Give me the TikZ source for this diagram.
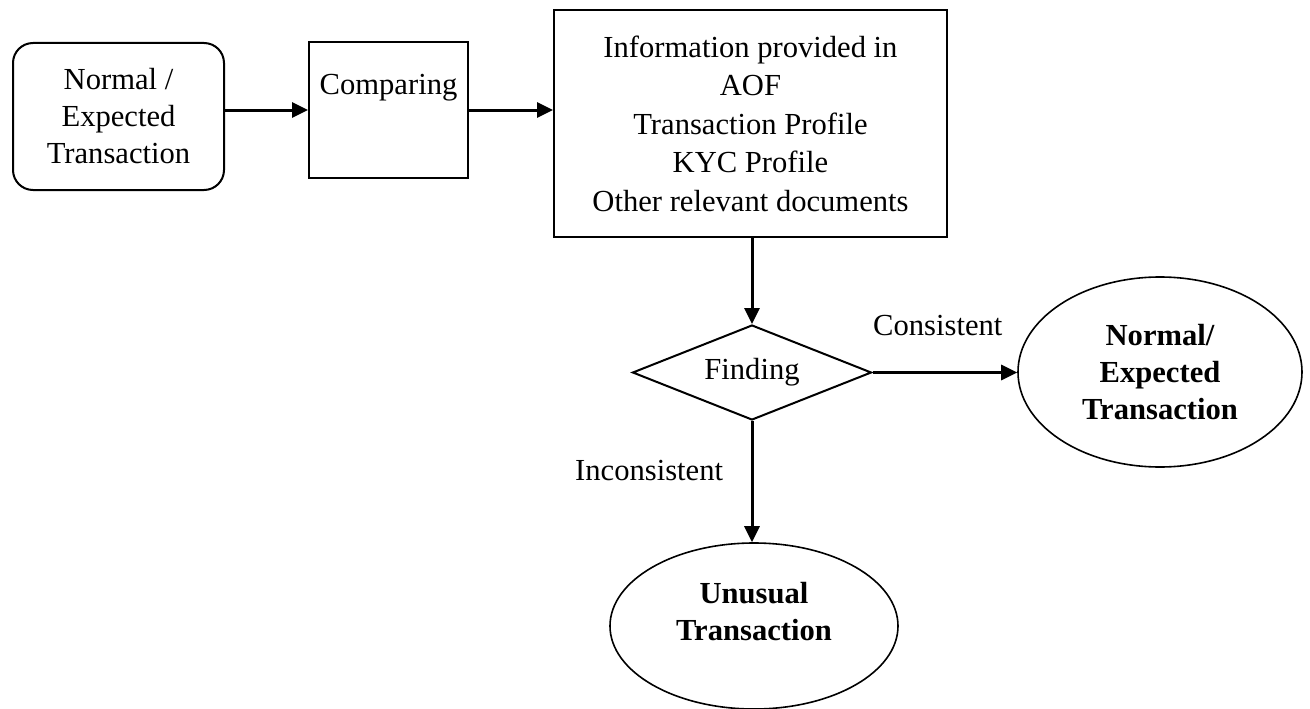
\documentclass[tikz,border=0pt]{standalone}
\usepackage{fontspec}
\setmainfont{Liberation Serif}
\usetikzlibrary{shapes.geometric,arrows.meta}
\begin{document}
\begin{tikzpicture}[x=1pt,y=-1pt,
  every node/.style={font=\fontsize{30.6}{37}\selectfont, align=center, inner sep=0pt},
  boxshape/.style={draw, line width=2pt, rectangle},
  roundbox/.style={draw, line width=2pt, rectangle, rounded corners=20pt},
  ellshape/.style={draw, line width=1.6pt, ellipse},
  decision/.style={draw, line width=2pt, diamond, shape aspect=2.5},
  flow/.style={line width=3pt, -{Triangle[length=16pt,width=15pt]}},
  boldtext/.style={font=\fontsize{30.6}{37}\selectfont\bfseries},
]
\useasboundingbox (0,0) rectangle (1310,709);
\fill[white] (0,0) rectangle (1310,709);

% nodes
\node[roundbox, minimum width=211pt, minimum height=147pt] (start) at (118.5,116.5)
  {Normal /\\Expected\\Transaction};
\node[boxshape, minimum width=159pt, minimum height=136pt] (cmp) at (388.5,110) {};
\node[anchor=base] (cmptext) at (388.5,95) {Comparing};
\node[boxshape, minimum width=393pt, minimum height=227pt,
      font=\fontsize{30.6}{38.5}\selectfont] (info) at (750.5,123.5)
  {Information provided in\\AOF\\Transaction Profile\\KYC Profile\\Other relevant documents};
\node[decision, minimum width=239pt, minimum height=95pt] (dec) at (752,372.5) {Finding};
\node[ellshape, boldtext, minimum width=284pt, minimum height=190pt] (normal) at (1160,372)
  {Normal/\\Expected\\Transaction};
\node[ellshape, minimum width=288pt, minimum height=166pt] (unusual) at (754,626) {};
\node[boldtext] (unusualtext) at (754,612) {Unusual\\Transaction};

% labels
\node[anchor=base west] (conslbl) at (873,335) {Consistent};
\node[anchor=base west] (inconslbl) at (575,480) {Inconsistent};

% connectors
\draw[flow] (start.east |- cmp.west) -- (cmp.west);
\draw[flow] (cmp.east) -- (cmp.east -| info.west);
\draw[flow] (info.south -| dec.north) -- (dec.north);
\draw[flow] (dec.east) -- (dec.east -| normal.west);
\draw[flow] (dec.south) -- (dec.south |- unusual.north);
\end{tikzpicture}
\end{document}
